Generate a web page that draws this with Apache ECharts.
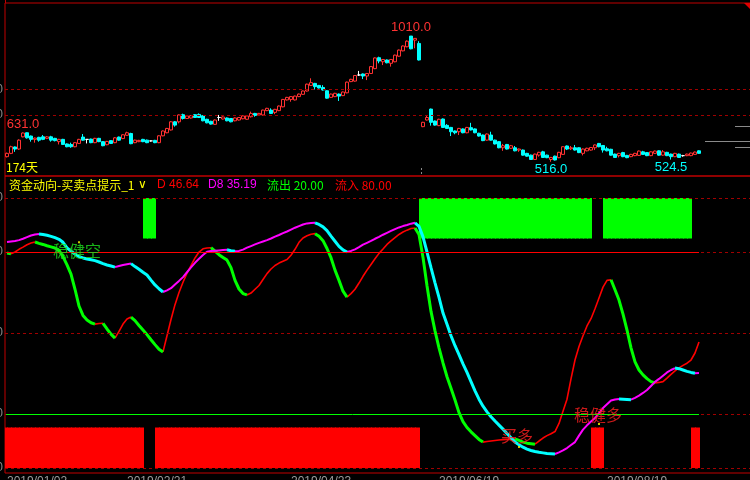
<!DOCTYPE html>
<html><head><meta charset="utf-8">
<script src="https://cdn.jsdelivr.net/npm/echarts@6/dist/echarts.min.js"></script>
<style>html,body{margin:0;padding:0;background:#000;}#c{width:750px;height:480px;}</style>
</head><body><div id="c"></div>
<script>
// ---------------- data ----------------
const dayCount = 174;
const slotCount = 187;
// [open, close, low, high]
const candles = [
[536,549,533,552],[549,575,546,579],[574,566,555,576],[566,601,563,604],[614,629,612,631],
[630,610,607,631],[617,604,595,619],[604,609,591,611],[612,601,595,614],[614,604,601,621],
[608,614,605,617],[614,601,595,618],[608,599,596,610],[595,604,584,606],[604,584,582,606],
[586,575,573,588],[584,575,571,591],[575,591,573,593],[588,604,586,606],[613,601,599,625],
[604,604,588,605],[605,591,589,607],[591,608,589,610],[608,595,593,610],[595,579,577,597],
[583,596,581,598],[599,588,586,601],[591,610,589,613],[613,601,599,615],[607,622,605,624],
[620,630,618,634],[627,587,585,630],[591,601,589,603],[595,600,593,602],[604,595,593,606],
[601,591,589,603],[598,598,595,600],[600,591,589,602],[591,618,589,620],[618,637,616,639],
[630,647,628,649],[641,673,639,676],[673,660,654,676],[673,700,667,702],[701,686,682,705],
[686,696,684,698],[688,697,686,699],[701,690,688,703],[702,690,688,706],[697,677,675,699],
[683,669,667,685],[675,664,662,677],[663,680,661,682],[690,690,677,700],[684,692,682,694],
[688,677,675,690],[686,673,671,688],[677,688,675,690],[680,690,678,692],[685,696,683,698],
[683,696,681,698],[693,706,690,713],[706,698,693,708],[700,706,698,708],[700,719,698,721],
[717,726,715,728],[719,706,704,726],[710,722,703,724],[717,735,715,737],[732,761,730,763],
[759,769,757,771],[761,772,752,774],[759,774,757,776],[772,782,770,784],[781,794,779,796],
[794,821,792,823],[816,827,814,844],[824,811,800,826],[816,806,804,818],[808,798,796,817],
[795,766,764,797],[769,782,767,784],[772,785,770,787],[782,774,755,784],[776,790,774,792],
[787,829,785,831],[831,840,829,842],[833,855,831,857],[857,857,853,873],[861,853,841,863],
[853,863,837,865],[863,890,861,892],[882,924,880,926],[925,912,903,929],[909,918,896,920],
[916,905,903,918],[903,918,890,920],[909,935,907,937],[931,955,929,957],[952,971,950,973],
[968,990,966,993],[1010,960,958,1010],[994,1001,962,1002],[981,916,914,990],[654,671,652,673],
[680,690,678,699],[723,671,658,725],[676,660,658,678],[658,683,656,685],[684,651,649,686],
[659,647,645,664],[651,634,617,653],[637,630,624,639],[634,647,621,649],[645,630,628,647],
[630,651,628,653],[650,641,639,669],[645,630,628,647],[628,617,615,630],[621,599,597,623],
[601,625,599,627],[621,601,599,634],[601,586,584,603],[595,571,569,597],[571,579,559,586],
[584,566,564,586],[569,579,567,582],[571,559,557,578],[562,566,555,568],[562,542,540,564],
[549,538,536,551],[542,525,523,544],[525,546,523,548],[542,553,536,555],[555,533,531,559],
[542,532,530,544],[525,533,516,535],[538,523,521,540],[532,553,530,555],[545,575,543,577],
[578,566,562,580],[567,571,562,578],[571,562,560,582],[571,552,550,573],[549,566,541,568],
[559,569,557,571],[562,572,560,574],[571,582,562,584],[588,575,573,590],[580,562,552,582],
[567,559,557,575],[565,542,540,567],[546,533,531,548],[540,549,533,551],[552,536,534,555],
[541,532,530,543],[536,545,534,547],[540,549,538,551],[541,558,539,560],[555,545,543,559],
[552,540,538,554],[540,555,538,557],[549,558,547,560],[559,542,540,561],[542,555,540,562],
[553,540,538,555],[546,536,524.5,548],[536,549,534,551],[546,533,531,548],[540,540,536,543],
[540,546,538,548],[540,550,538,552],[545,554,543,556],[559,549,547,561]
];
const dLine = [
79.6,79.3,80.0,81.0,81.8,82.7,83.3,83.7,83.2,82.8,82.3,81.9,81.5,80.6,78.3,75.2,71.8,66.2,60.0,56.5,
54.8,53.8,53.3,53.5,53.6,51.5,49.6,48.1,50.6,53.3,55.2,55.9,54.6,52.8,51.1,49.4,47.5,45.7,44.0,43.0,
49.0,55.0,60.5,65.0,68.8,72.2,75.0,77.8,80.0,81.2,81.5,81.6,80.3,79.0,78.0,77.0,74.2,69.5,66.3,64.6,
64.1,64.8,66.2,67.6,69.8,72.0,73.7,75.0,75.9,76.6,77.2,78.8,81.0,83.6,85.2,86.0,86.6,86.8,85.8,84.2,
81.3,77.9,73.3,69.5,65.5,63.3,64.6,66.2,68.5,71.0,73.3,75.4,77.5,79.5,81.1,82.8,84.1,85.3,86.5,87.4,
88.1,88.7,88.9,86.5,78.0,67.5,58.0,50.8,44.5,38.9,33.8,29.5,25.2,20.5,17.2,15.0,13.4,12.0,10.6,9.6,
9.8,10.0,10.2,10.4,10.5,10.6,10.7,10.8,10.2,9.6,9.2,9.0,8.8,10.0,11.1,12.0,12.7,13.5,16.5,21.0,
25.5,33.0,40.0,45.0,49.0,52.6,55.3,59.0,63.0,67.0,69.5,69.7,66.0,62.2,57.0,51.1,44.5,39.3,36.3,34.5,
33.1,32.0,31.5,31.7,32.0,33.3,34.7,36.0,37.1,38.0,38.8,40.0,42.6,46.64
];
const d8Line = [
83.7,83.9,84.1,84.4,84.9,85.5,86.1,86.5,86.7,86.5,86.2,85.8,85.3,84.7,83.6,81.5,80.3,79.3,78.3,77.8,
77.4,77.1,76.8,76.3,75.7,75.2,74.8,74.4,74.8,75.2,75.5,75.7,74.6,73.6,72.5,71.5,69.6,67.8,66.4,65.2,
65.8,66.6,68.0,69.3,70.7,72.5,74.3,76.0,77.5,78.9,80.1,80.4,80.5,80.6,80.7,80.8,80.5,80.3,80.4,80.9,
81.6,82.2,82.8,83.4,83.9,84.4,85.0,85.7,86.3,87.0,87.6,88.3,89.0,89.6,90.2,90.6,90.7,90.8,90.2,89.3,
87.9,85.9,84.0,82.1,80.8,80.0,80.4,81.0,81.8,82.7,83.4,84.1,84.9,85.6,86.4,87.1,87.8,88.5,89.1,89.6,
90.0,90.5,90.8,89.5,85.6,80.0,74.2,68.6,63.2,57.4,53.2,49.0,45.3,42.0,38.6,35.4,32.0,28.6,25.5,22.9,
20.8,19.0,17.4,15.9,14.4,12.8,11.2,9.6,8.6,7.7,7.0,6.5,6.1,5.8,5.6,5.4,5.3,5.2,5.8,6.5,
7.4,8.5,9.6,12.0,14.2,15.8,17.2,18.5,20.3,22.2,23.6,25.0,25.4,25.6,25.5,25.4,25.3,26.0,26.8,27.8,
28.9,30.4,31.9,33.0,34.2,35.4,36.3,37.0,36.8,36.3,35.8,35.4,35.10,35.19
];
// signal blocks, run-length: 'in' = 流入 (red, bottom), 'out' = 流出 (green, top)
const signalRuns = [['in',35],['out',3],['in',66],['out',43],['in',3],['out',22],['in',2]];
const outflowLevel = 20;
const inflowLevel = 80;
const blockLow = 15;
const blockHigh = 85;
const priceGrid = [700, 800];
const indGrid = [0, 20, 50, 80, 100];
// labelled extremes: [index, 'high'|'low']
const priceExtremes = [[101,'high'],[4,'high'],[136,'low'],[166,'low']];
// signal annotations
const signalIdx = [18, 128, 148];
const signalVal = [83.6, 7.8, 16.3];
const signalText = ['稳健空', '买多', '稳健多'];
const dateTicks = {0:'2019/01/02', 30:'2019/02/21', 71:'2019/04/23', 108:'2019/06/19', 150:'2019/08/19'};

// ---------------- build ----------------
const RED = '#ff3232', CYAN = '#00ffff', GRIDRED = '#a00000', BORDER = '#c00000';
const cats = [];
for (let i = 0; i < slotCount; i++) cats.push(String(i));

const flags = [];
signalRuns.forEach(([k, n]) => { for (let j = 0; j < n; j++) flags.push(k); });
const inBars = flags.map(f => f === 'in' ? blockLow : null);
const outBase = flags.map(f => f === 'out' ? blockHigh : null);
const outBars = flags.map(f => f === 'out' ? 100 - blockHigh : null);

function splitDir(vals) {
  const up = vals.map(() => null), dn = vals.map(() => null);
  for (let i = 0; i < vals.length - 1; i++) {
    const t = vals[i + 1] >= vals[i] ? up : dn;
    t[i] = vals[i]; t[i + 1] = vals[i + 1];
  }
  return [up, dn];
}
const [dUp, dDn] = splitDir(dLine);
const [d8Up, d8Dn] = splitDir(d8Line);

const extremeStyle = {
  high: { position: 'top', distance: 2, color: RED },
  low: { position: 'bottom', distance: 1, color: CYAN }
};
const priceMP = priceExtremes.map(([i, kind]) => {
  const v = kind === 'high' ? candles[i][3] : candles[i][2];
  return {
    coord: [i, v], value: v,
    label: Object.assign({ show: true, formatter: v.toFixed(1), fontSize: 13,
      fontFamily: 'Liberation Sans, Arial, sans-serif' }, extremeStyle[kind])
  };
});

const sigStyles = [
  { color: '#1ee01e', offset: [-2, 9] },
  { color: '#ff2020', offset: [-2, -11] },
  { color: '#ff2020', offset: [-1, -9] }
];
const sigData = signalIdx.map((i, k) => ({
  value: [i, signalVal[k]],
  label: { show: true, formatter: signalText[k], position: 'inside', offset: sigStyles[k].offset,
    color: sigStyles[k].color, fontSize: 16, fontFamily: '"Noto Sans CJK SC", sans-serif' }
}));

const gridLineStyle = { color: GRIDRED, type: [3, 3], width: 1 };
const edgeLabel = { show: true, position: 'start', distance: 2, color: '#8a8a8a', fontSize: 12, formatter: (p) => p.value.toFixed(2) };

const levelLines = indGrid.map(v => ({ yAxis: v, lineStyle: gridLineStyle, label: edgeLabel }));
levelLines.push(
  [{ coord: [0, inflowLevel], x: 6, lineStyle: { color: '#ff0000', width: 1, type: 'solid' }, label: { show: false } }, { coord: [dayCount - 1, inflowLevel] }],
  [{ coord: [0, outflowLevel], x: 6, lineStyle: { color: '#00ff00', width: 1, type: 'solid' }, label: { show: false } }, { coord: [dayCount - 1, outflowLevel] }]
);

const hiddenCat = (g) => ({ type: 'category', gridIndex: g, data: cats, boundaryGap: true,
  axisLine: { show: false }, axisTick: { show: false }, axisLabel: { show: false }, splitLine: { show: false } });
const hiddenVal = (g, mn, mx) => ({ type: 'value', gridIndex: g, min: mn, max: mx, axisLine: { show: false },
  axisTick: { show: false }, axisLabel: { show: false }, splitLine: { show: false } });

// block bars sit in the left part of each day slot: real column (5px) + empty spacer column (3px)
const blockBar = (data, color) => ({ type: 'bar', xAxisIndex: 1, yAxisIndex: 1, data, stack: 'blocks',
  barWidth: 5, barGap: 0, clip: true, silent: true, itemStyle: { color } });

const chart = echarts.init(document.getElementById('c'), null, { renderer: 'canvas' });
chart.setOption({
  backgroundColor: '#000',
  animation: false,
  grid: [
    { left: 5, right: -3, top: 3, height: 173, show: true, borderColor: BORDER, borderWidth: 1,
      backgroundColor: 'transparent', containLabel: false, outerBoundsMode: 'none' },
    { left: 5, right: -3, top: 176, height: 297, show: true, borderColor: BORDER, borderWidth: 1,
      backgroundColor: 'transparent', containLabel: false, outerBoundsMode: 'none' }
  ],
  xAxis: [
    hiddenCat(0),
    { type: 'category', gridIndex: 1, data: cats, boundaryGap: true,
      axisLine: { show: false }, axisTick: { show: false }, splitLine: { show: false },
      axisLabel: { show: true, interval: (i) => dateTicks[i] !== undefined, formatter: (v, i) => dateTicks[i] || '',
        color: '#9a9a9a', fontSize: 12, margin: 3, align: 'left', fontFamily: 'Liberation Sans, Arial, sans-serif' } }
  ],
  yAxis: [
    hiddenVal(0, 460, 1140),
    hiddenVal(1, -1.85, 108.15)
  ],
  series: [
    { type: 'candlestick', xAxisIndex: 0, yAxisIndex: 0, data: candles, barWidth: 3,
      itemStyle: { color: '#000', color0: CYAN, borderColor: RED, borderColor0: CYAN, borderColorDoji: '#ffffff', borderWidth: 1 },
      markLine: { silent: true, symbol: 'none', animation: false, label: edgeLabel,
        lineStyle: gridLineStyle, data: priceGrid.map(v => ({ yAxis: v })) },
      markPoint: { symbol: 'circle', symbolSize: 0, silent: true, animation: false, data: priceMP }
    },
    { type: 'line', xAxisIndex: 1, yAxisIndex: 1, data: [], silent: true, z: 1,
      markLine: { silent: true, symbol: 'none', animation: false, data: levelLines } },
    blockBar(inBars, '#ff0000'),
    blockBar(outBase, 'rgba(0,0,0,0)'),
    blockBar(outBars, '#00ff00'),
    { type: 'bar', xAxisIndex: 1, yAxisIndex: 1, data: [], stack: 'spacer', barWidth: 3, barGap: 0, silent: true },
    { type: 'line', xAxisIndex: 1, yAxisIndex: 1, data: dUp, showSymbol: false, connectNulls: false, silent: true,
      lineStyle: { color: '#ff0000', width: 1.6 } },
    { type: 'line', xAxisIndex: 1, yAxisIndex: 1, data: dDn, showSymbol: false, connectNulls: false, silent: true,
      lineStyle: { color: '#00ff00', width: 3 } },
    { type: 'line', xAxisIndex: 1, yAxisIndex: 1, data: d8Up, showSymbol: false, connectNulls: false, silent: true,
      lineStyle: { color: '#ff00ff', width: 2 } },
    { type: 'line', xAxisIndex: 1, yAxisIndex: 1, data: d8Dn, showSymbol: false, connectNulls: false, silent: true,
      lineStyle: { color: '#00ffff', width: 3 } },
    { type: 'scatter', xAxisIndex: 1, yAxisIndex: 1, data: sigData, symbol: 'rect', symbolSize: 2,
      itemStyle: { color: '#ffff00' }, silent: true, z: 5 }
  ],
  graphic: [
    { type: 'text', left: 6, top: 161, style: { text: dayCount + '天', fill: '#ffff00', font: '12px "Noto Sans CJK SC", sans-serif' } },
    { type: 'text', left: 9, top: 179, style: { text: '资金动向-买卖点提示_1', fill: '#ffff00', font: '12px "Noto Sans CJK SC", sans-serif' } },
    { type: 'text', left: 138, top: 179, style: { text: '∨', fill: '#ffff00', font: '12px "DejaVu Sans", sans-serif' } },
    { type: 'text', left: 157, top: 179, style: { text: 'D ' + dLine[dLine.length - 1].toFixed(2), fill: '#ff0000', font: '12px "Liberation Sans", Arial, sans-serif' } },
    { type: 'text', left: 208, top: 179, style: { text: 'D8 ' + d8Line[d8Line.length - 1].toFixed(2), fill: '#ff00ff', font: '12px "Liberation Sans", Arial, sans-serif' } },
    { type: 'text', left: 267, top: 179, style: { text: '流出 ' + outflowLevel.toFixed(2), fill: '#00ff00', font: '12px "Noto Sans CJK SC", sans-serif' } },
    { type: 'text', left: 335, top: 179, style: { text: '流入 ' + inflowLevel.toFixed(2), fill: '#ff0000', font: '12px "Noto Sans CJK SC", sans-serif' } },
    { type: 'line', silent: true, shape: { x1: 5.5, y1: 0, x2: 5.5, y2: 3 }, style: { stroke: BORDER, lineWidth: 1 } },
    { type: 'line', silent: true, shape: { x1: 421.5, y1: 168, x2: 421.5, y2: 176 }, style: { stroke: '#8a8a8a', lineWidth: 1, lineDash: [2, 2] } },
    { type: 'line', silent: true, shape: { x1: 735, y1: 126.5, x2: 750, y2: 126.5 }, style: { stroke: '#8a8a8a', lineWidth: 1 } },
    { type: 'line', silent: true, shape: { x1: 705, y1: 141.5, x2: 750, y2: 141.5 }, style: { stroke: '#8a8a8a', lineWidth: 1 } },
    { type: 'line', silent: true, shape: { x1: 735, y1: 147.5, x2: 750, y2: 147.5 }, style: { stroke: '#8a8a8a', lineWidth: 1 } },
    { type: 'polygon', silent: true, shape: { points: [[744, 3], [750, 3], [750, 9]] }, style: { fill: '#e00000' } }
  ]
});
</script></body></html>
